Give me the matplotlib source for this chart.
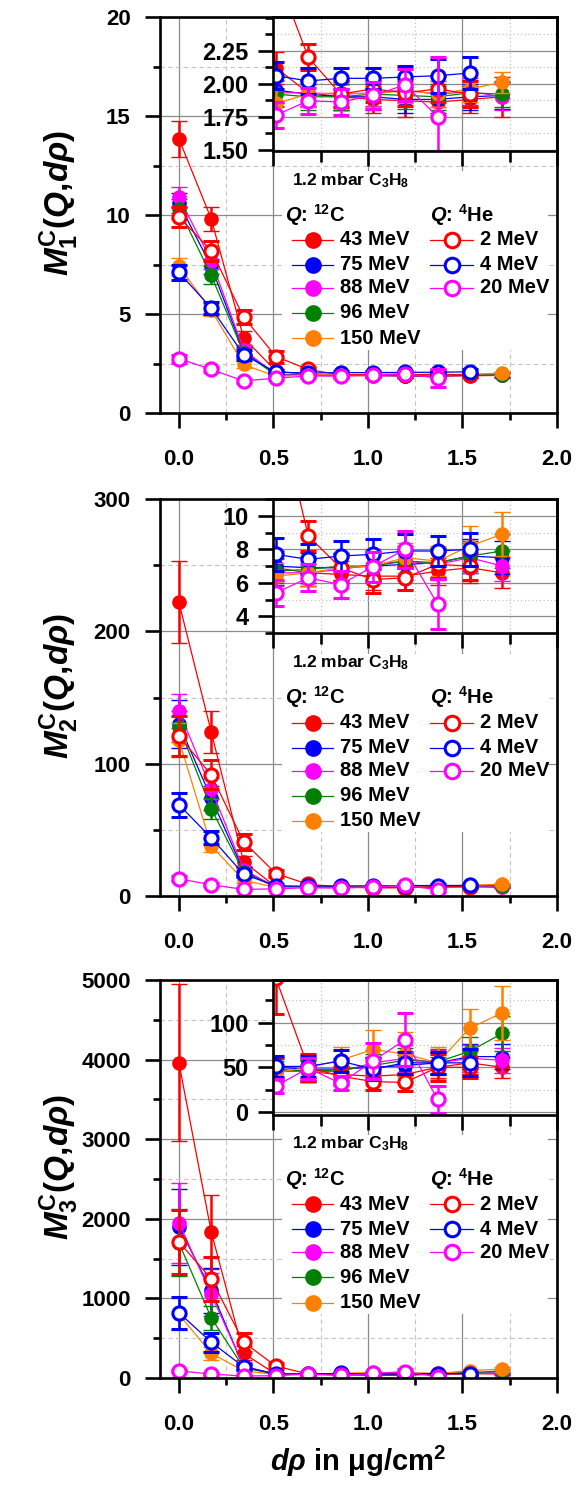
import matplotlib
matplotlib.use('Agg')
import matplotlib.pyplot as plt
from matplotlib.patches import Rectangle
from matplotlib.ticker import MultipleLocator, FixedLocator, FormatStrFormatter

plt.rcParams['font.family'] = ['Liberation Sans', 'DejaVu Sans']
plt.rcParams['font.weight'] = 'bold'
plt.rcParams['axes.labelweight'] = 'bold'
plt.rcParams['mathtext.fontset'] = 'custom'
plt.rcParams['mathtext.rm'] = 'Liberation Sans:bold'
plt.rcParams['mathtext.it'] = 'Liberation Sans:italic:bold'
plt.rcParams['mathtext.bf'] = 'Liberation Sans:bold'
plt.rcParams['mathtext.sf'] = 'Liberation Sans:bold'

# ---------------- data ----------------
x_c = [0.0, 0.171, 0.342, 0.513, 0.684, 0.855, 1.026, 1.197, 1.368, 1.539, 1.71]
x_he2 = x_c[:10]
x_he4 = x_c[:10]
x_he20 = x_c[:9]

labels_c = ['43 MeV', '75 MeV', '88 MeV', '96 MeV', '150 MeV']
labels_he = ['2 MeV', '4 MeV', '20 MeV']
colors_c = ['#ff0000', '#0000ff', '#ff00ff', '#008000', '#ff8000']
colors_he = ['#ff0000', '#0000ff', '#ff00ff']

# M1
m1_43 = [13.85, 9.8, 3.8, 2.12, 1.93, 1.90, 1.88, 1.87, 1.86, 1.88, 1.90]
m1_43_e = [0.9, 0.6, 0.35, 0.12, 0.1, 0.1, 0.1, 0.12, 0.1, 0.1, 0.15]
m1_75 = [10.6, 7.4, 3.1, 1.95, 1.92, 1.90, 1.90, 1.88, 1.88, 1.90, 1.91]
m1_75_e = [0.5, 0.4, 0.25, 0.1, 0.1, 0.1, 0.1, 0.1, 0.1, 0.1, 0.1]
m1_88 = [10.9, 7.7, 3.2, 1.93, 1.93, 1.92, 1.93, 1.95, 1.92, 1.94, 1.90]
m1_88_e = [0.5, 0.45, 0.25, 0.1, 0.1, 0.1, 0.1, 0.1, 0.1, 0.1, 0.1]
m1_96 = [10.3, 6.95, 3.05, 1.92, 1.90, 1.90, 1.92, 1.91, 1.90, 1.93, 1.92]
m1_96_e = [0.5, 0.45, 0.25, 0.1, 0.1, 0.1, 0.1, 0.1, 0.1, 0.1, 0.1]
m1_150 = [7.4, 5.2, 2.45, 1.85, 1.92, 1.93, 1.92, 1.95, 1.92, 1.96, 2.01]
m1_150_e = [0.45, 0.3, 0.2, 0.1, 0.1, 0.1, 0.1, 0.1, 0.1, 0.1, 0.08]
m1_2 = [9.9, 8.2, 4.85, 2.85, 2.2, 1.92, 1.96, 1.93, 1.96, 1.92]
m1_2_e = [0.5, 0.5, 0.35, 0.3, 0.1, 0.1, 0.1, 0.1, 0.1, 0.1]
m1_4 = [7.1, 5.3, 2.95, 2.06, 2.02, 2.04, 2.04, 2.05, 2.06, 2.08]
m1_4_e = [0.4, 0.3, 0.25, 0.1, 0.1, 0.08, 0.08, 0.08, 0.13, 0.12]
m1_20 = [2.75, 2.2, 1.62, 1.76, 1.87, 1.86, 1.91, 1.99, 1.75]
m1_20_e = [0.2, 0.12, 0.1, 0.1, 0.1, 0.1, 0.1, 0.12, 0.45]

# M2
m2_43 = [222, 124, 26, 6.9, 6.6, 6.5, 6.4, 6.4, 6.7, 6.9, 6.6]
m2_43_e = [31, 16, 4, 0.9, 0.8, 0.8, 0.8, 0.8, 0.8, 0.9, 0.9]
m2_75 = [130, 74, 19, 7.0, 6.9, 6.9, 7.0, 7.1, 7.2, 7.6, 7.5]
m2_75_e = [18, 9, 3, 0.9, 0.9, 0.9, 0.9, 0.9, 0.9, 1.0, 1.0]
m2_88 = [140, 81, 20, 6.6, 6.6, 6.8, 7.1, 7.3, 7.1, 7.5, 7.0]
m2_88_e = [13, 8, 3, 0.8, 0.8, 0.8, 0.9, 0.9, 0.9, 0.9, 0.9]
m2_96 = [128, 66, 18, 6.7, 6.8, 7.0, 7.0, 7.3, 7.2, 7.6, 7.9]
m2_96_e = [12, 8, 3, 0.8, 0.8, 0.8, 0.9, 0.9, 0.9, 0.9, 1.0]
m2_150 = [118, 38, 12, 6.4, 6.6, 6.9, 7.0, 7.5, 7.3, 8.2, 8.9]
m2_150_e = [13, 5, 2, 0.8, 0.8, 0.8, 0.9, 0.9, 0.9, 1.2, 1.3]
m2_2 = [121, 91.5, 41, 17, 8.8, 6.9, 6.2, 6.3, 7.1, 7.0]
m2_2_e = [15, 11, 6, 3, 0.9, 0.8, 0.8, 0.7, 0.8, 0.8]
m2_4 = [69, 44, 16.5, 7.7, 7.4, 7.6, 7.7, 7.9, 7.9, 8.0]
m2_4_e = [9, 5, 2.5, 1.0, 0.9, 0.9, 0.9, 1.0, 0.9, 1.0]
m2_20 = [13, 8.5, 5, 5.4, 6.3, 5.9, 6.96, 8.0, 4.74]
m2_20_e = [2, 1.2, 0.8, 0.8, 0.8, 0.8, 0.9, 1.1, 1.5]

# M3
m3_43 = [3960, 1835, 310, 48, 45, 42, 40, 42, 50, 55, 50]
m3_43_e = [985, 460, 90, 12, 12, 10, 10, 10, 12, 13, 12]
m3_75 = [1900, 1100, 140, 50, 48, 48, 50, 52, 55, 62, 62]
m3_75_e = [480, 280, 40, 12, 12, 12, 12, 12, 12, 14, 14]
m3_88 = [1950, 1050, 150, 45, 46, 45, 55, 60, 55, 60, 58]
m3_88_e = [500, 270, 45, 12, 12, 12, 14, 15, 14, 15, 14]
m3_96 = [1700, 755, 130, 47, 46, 47, 52, 58, 56, 68, 88]
m3_96_e = [420, 150, 35, 12, 12, 12, 13, 14, 14, 16, 20]
m3_150 = [800, 310, 90, 44, 50, 58, 70, 65, 55, 94, 111]
m3_150_e = [200, 80, 25, 10, 12, 15, 22, 25, 18, 22, 30]
m3_2 = [1710, 1245, 450, 150, 50, 40, 34, 33, 50, 50]
m3_2_e = [400, 280, 120, 40, 15, 10, 10, 10, 15, 12]
m3_4 = [820, 450, 140, 51, 51, 57, 48, 55, 55, 55]
m3_4_e = [200, 120, 40, 12, 12, 12, 12, 12, 12, 15]
m3_20 = [90, 50, 25, 29, 49, 32, 57, 81, 14]
m3_20_e = [15, 10, 6, 8, 12, 8, 20, 30, 15]

panels = [
    dict(c=[(m1_43, m1_43_e), (m1_75, m1_75_e), (m1_88, m1_88_e), (m1_96, m1_96_e), (m1_150, m1_150_e)],
         he=[(x_he2, m1_2, m1_2_e), (x_he4, m1_4, m1_4_e), (x_he20, m1_20, m1_20_e)],
         ylim=(0, 20), ymaj=5, ymin=2.5, fmt='%d',
         ilim=(1.49, 2.505), iticks=[1.5, 1.75, 2.0, 2.25], imin=0.125, ifmt='%.2f',
         ylabel=r'$\mathit{M}_{\mathbf{1}}^{\mathbf{C}}\mathbf{(}\mathit{Q}\mathbf{,}\mathit{d\rho}\mathbf{)}$'),
    dict(c=[(m2_43, m2_43_e), (m2_75, m2_75_e), (m2_88, m2_88_e), (m2_96, m2_96_e), (m2_150, m2_150_e)],
         he=[(x_he2, m2_2, m2_2_e), (x_he4, m2_4, m2_4_e), (x_he20, m2_20, m2_20_e)],
         ylim=(0, 300), ymaj=100, ymin=50, fmt='%d',
         ilim=(3, 11), iticks=[4, 6, 8, 10], imin=1, ifmt='%d',
         ylabel=r'$\mathit{M}_{\mathbf{2}}^{\mathbf{C}}\mathbf{(}\mathit{Q}\mathbf{,}\mathit{d\rho}\mathbf{)}$'),
    dict(c=[(m3_43, m3_43_e), (m3_75, m3_75_e), (m3_88, m3_88_e), (m3_96, m3_96_e), (m3_150, m3_150_e)],
         he=[(x_he2, m3_2, m3_2_e), (x_he4, m3_4, m3_4_e), (x_he20, m3_20, m3_20_e)],
         ylim=(0, 5000), ymaj=1000, ymin=500, fmt='%d',
         ilim=(-3, 148), iticks=[0, 50, 100], imin=25, ifmt='%d',
         ylabel=r'$\mathit{M}_{\mathbf{3}}^{\mathbf{C}}\mathbf{(}\mathit{Q}\mathbf{,}\mathit{d\rho}\mathbf{)}$'),
]

W, H = 579, 1495
fig = plt.figure(figsize=(W / 100, H / 100), dpi=100)

SP = 1.9
MS = 9.5


def draw(ax, x, y, e, col, filled, z):
    ax.errorbar(x, y, yerr=e, color=col, lw=0.9, marker='o', ms=MS,
                mfc=col if filled else 'white', mec=col, mew=1.0 if filled else 2.2,
                ecolor=col, elinewidth=1.8, capsize=5.5, capthick=1.8, zorder=z)


def style_axes(ax, major_len, minor_len):
    for s in ax.spines.values():
        s.set_linewidth(SP)
        s.set_zorder(10)
    ax.tick_params(which='major', direction='out', length=major_len, width=SP)
    ax.tick_params(which='minor', direction='out', length=minor_len, width=SP)
    ax.tick_params(top=False, right=False, which='both')


tops = [17, 499, 980]
bots = [413, 896, 1378]
left_px, right_px = 160, 557

for k, p in enumerate(panels):
    ax = fig.add_axes([left_px / W, 1 - bots[k] / H, (right_px - left_px) / W, (bots[k] - tops[k]) / H])
    ax.set_xlim(-0.1, 2.0)
    ax.set_ylim(*p['ylim'])
    ax.xaxis.set_major_locator(MultipleLocator(0.5))
    ax.xaxis.set_minor_locator(MultipleLocator(0.25))
    ax.xaxis.set_major_formatter(FormatStrFormatter('%.1f'))
    ax.yaxis.set_major_locator(MultipleLocator(p['ymaj']))
    ax.yaxis.set_minor_locator(MultipleLocator(p['ymin']))
    ax.yaxis.set_major_formatter(FormatStrFormatter(p['fmt']))
    style_axes(ax, 11, 5)
    ax.tick_params(axis='x', which='major', pad=15, labelsize=16)
    ax.tick_params(axis='y', which='major', pad=10, labelsize=16)
    ax.grid(which='major', color='#8a8a8a', lw=0.9, ls='-')
    ax.grid(which='minor', color='#c4c4c4', lw=0.8, ls=(0, (4, 3)))
    ax.set_axisbelow(True)

    for i, ((y, e), col) in enumerate(zip(p['c'], colors_c)):
        draw(ax, x_c, y, e, col, True, 3 + i * 0.1)
    for i, ((xx, y, e), col) in enumerate(zip(p['he'], colors_he)):
        draw(ax, xx, y, e, col, False, 4 + i * 0.1)

    ax.set_ylabel(p['ylabel'], fontsize=24)
    ax.yaxis.set_label_coords(-0.2, 0.53)

    # legend block
    ax.add_patch(Rectangle((0.307, 0.16), 0.671, 0.45, transform=ax.transAxes,
                           facecolor='white', edgecolor='none', zorder=1.8))
    ax.text(0.332, 0.588, r'1.2 mbar C$_{\mathbf{3}}$H$_{\mathbf{8}}$', transform=ax.transAxes,
            fontsize=12.5, va='center', ha='left', zorder=6)
    ax.text(0.315, 0.5, r'$\mathit{Q}$: $^{\mathbf{12}}$C', transform=ax.transAxes,
            fontsize=14.5, va='center', ha='left', zorder=6)
    ax.text(0.68, 0.5, r'$\mathit{Q}$: $^{\mathbf{4}}$He', transform=ax.transAxes,
            fontsize=14.5, va='center', ha='left', zorder=6)
    rows = [0.437, 0.374, 0.316, 0.253, 0.189]
    for i, (lab, col) in enumerate(zip(labels_c, colors_c)):
        ax.plot([0.332, 0.436], [rows[i], rows[i]], transform=ax.transAxes, color=col, lw=0.9, zorder=6)
        ax.plot([0.385], [rows[i]], 'o', transform=ax.transAxes, color=col, ms=11, mec=col, zorder=6)
        ax.text(0.453, rows[i], lab, transform=ax.transAxes, fontsize=14.5, va='center', ha='left', zorder=6)
    for i, (lab, col) in enumerate(zip(labels_he, colors_he)):
        ax.plot([0.68, 0.788], [rows[i], rows[i]], transform=ax.transAxes, color=col, lw=0.9, zorder=6)
        ax.plot([0.736], [rows[i]], 'o', transform=ax.transAxes, mfc='white', mec=col, mew=2.2, ms=10.5, zorder=6)
        ax.text(0.806, rows[i], lab, transform=ax.transAxes, fontsize=14.5, va='center', ha='left', zorder=6)

    # inset
    ins = ax.inset_axes([0.6 / 2.1, 1 - 0.338, 1.5 / 2.1, 0.338])
    ins.set_zorder(8)
    ins.set_facecolor('white')
    ins.set_xlim(0.5, 2.0)
    ins.set_ylim(*p['ilim'])
    ins.xaxis.set_major_locator(MultipleLocator(0.5))
    ins.xaxis.set_minor_locator(MultipleLocator(0.25))
    ins.yaxis.set_major_locator(FixedLocator(p['iticks']))
    ins.yaxis.set_minor_locator(MultipleLocator(p['imin']))
    ins.yaxis.set_major_formatter(FormatStrFormatter(p['ifmt']))
    ins.tick_params(axis='x', labelbottom=False)
    style_axes(ins, 11, 5.5)
    ins.tick_params(axis='x', which='minor', length=8)
    ins.tick_params(axis='y', which='major', pad=7, labelsize=17)
    ins.grid(which='major', color='#8a8a8a', lw=0.9, ls='-')
    ins.grid(which='minor', color='#c4c4c4', lw=0.9, ls=(0, (1, 2)))
    ins.set_axisbelow(True)
    for i, ((y, e), col) in enumerate(zip(p['c'], colors_c)):
        draw(ins, x_c, y, e, col, True, 3 + i * 0.1)
    for i, ((xx, y, e), col) in enumerate(zip(p['he'], colors_he)):
        draw(ins, xx, y, e, col, False, 4 + i * 0.1)

    if k == 2:
        ax.set_xlabel(r'$\mathit{d\rho}$ in μg/cm$^{\mathbf{2}}$', fontsize=21, labelpad=6)

fig.savefig('out.png', dpi=100)
